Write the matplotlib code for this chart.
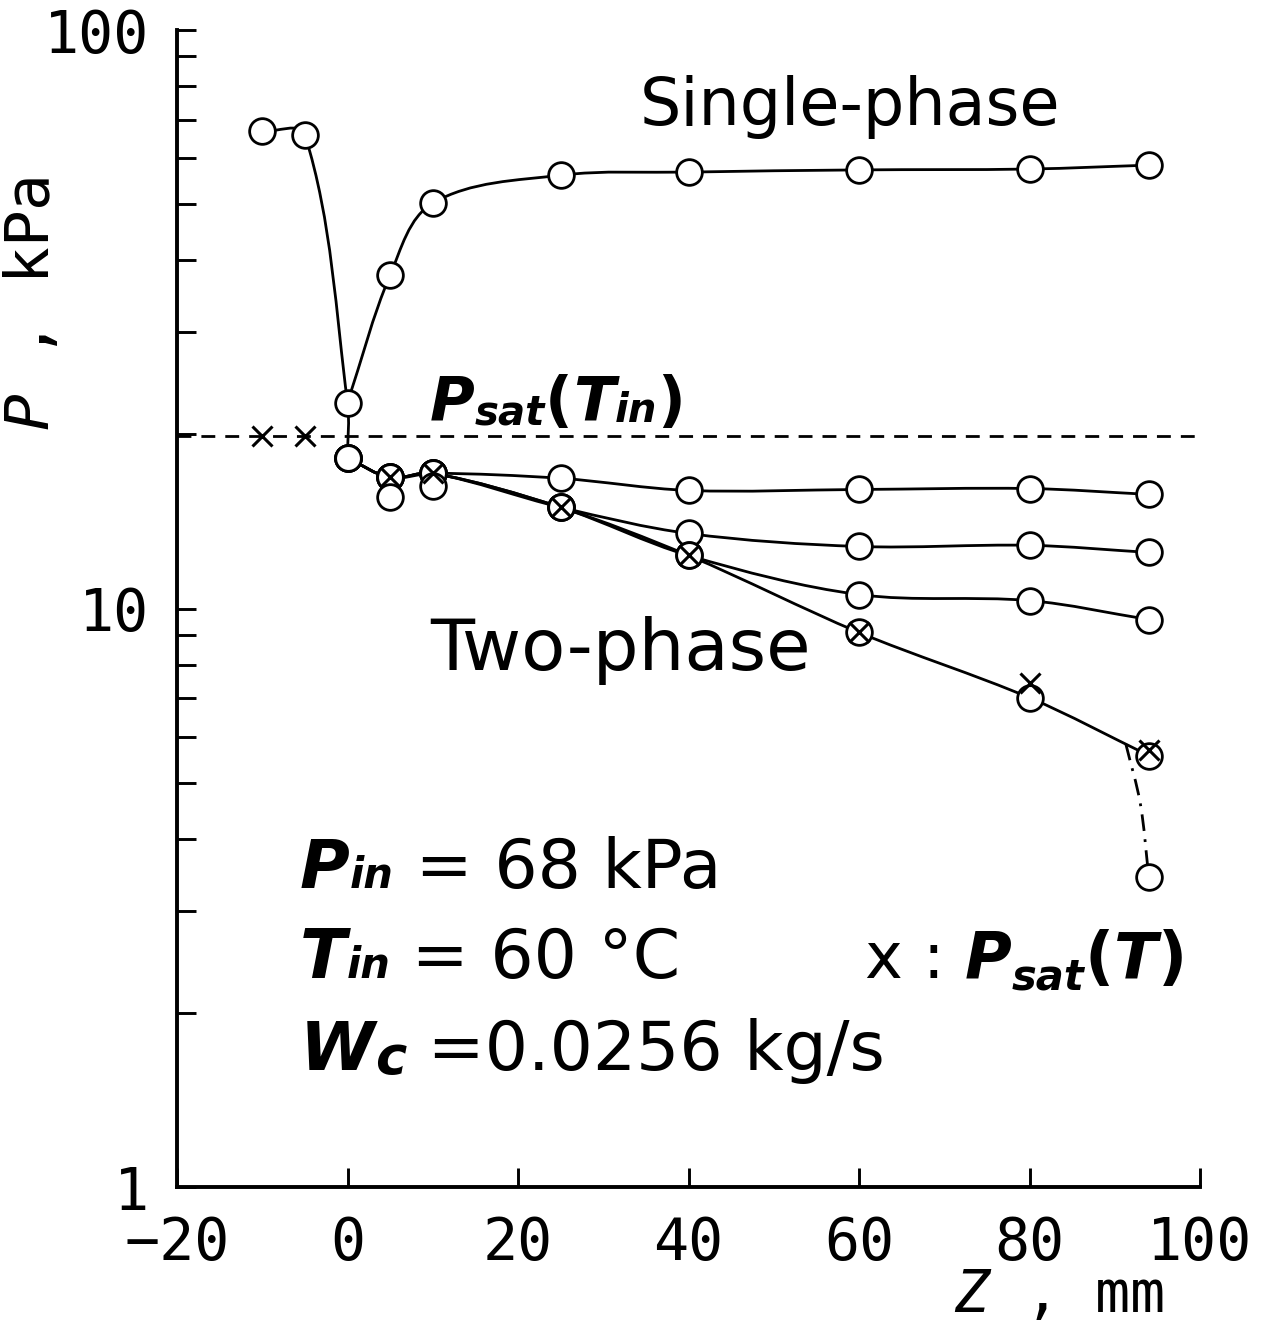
import numpy as np
import matplotlib
matplotlib.use("Agg")
import matplotlib.pyplot as plt
from matplotlib.path import Path
from matplotlib.patches import PathPatch
from matplotlib.ticker import LogLocator, NullFormatter

plt.rcParams["mathtext.fontset"] = "custom"
plt.rcParams["mathtext.it"] = "DejaVu Sans Mono:italic"
plt.rcParams["mathtext.rm"] = "DejaVu Sans Mono"

# single-phase run
z_single = [-10, -5, 0, 5, 10, 25, 40, 60, 80, 94]
p_single = [66.8, 65.9, 22.7, 37.7, 50.2, 56.1, 56.8, 57.3, 57.5, 58.4]

# two-phase runs (all start from the same inlet point)
z_two = [0, 5, 10, 25, 40, 60, 80, 94]
p_two_a = [18.2, 16.85, 17.13, 16.79, 16.0, 16.06, 16.12, 15.75]
p_two_b = [18.2, 16.85, 17.13, 14.96, 13.48, 12.80, 12.86, 12.50]
p_two_c = [18.2, 16.85, 17.13, 14.96, 12.35, 10.57, 10.32, 9.57]
p_two_d = [18.2, 16.85, 17.13, 14.96, 12.35, 9.09, 7.01, 5.57]

# extra measured points without a line
z_extra = [5, 10]
p_extra = [15.56, 16.26]

# saturation pressure at local temperature (x marks)
p_sat_in = 19.9
z_cross = [-10, -5, 5, 10, 25, 40, 60, 80, 94]
p_cross = [19.9, 19.9, 16.85, 17.13, 14.96, 12.35, 9.09, 7.42, 5.70]

# dash-dot drop at the exit
z_exit = [91.3, 93.0, 94.0]
p_exit = [5.83, 4.60, 3.43]

x_ticks = [-20, 0, 20, 40, 60, 80, 100]
x_tick_labels = ["\u221220", "0", "20", "40", "60", "80", "100"]
y_ticks = [1, 10, 100]
y_tick_labels = ["1", "10", "100"]

W, H = 1282, 1330
fig = plt.figure(figsize=(W / 100, H / 100), dpi=100)
ax = fig.add_axes([177 / W, 1 - 1187 / H, (1200 - 177) / W, (1187 - 30) / H])
ax.set_yscale("log")
ax.set_xlim(-20, 100)
ax.set_ylim(1, 100)
ax.set_autoscale_on(False)

for side in ("top", "right"):
    ax.spines[side].set_visible(False)
for side in ("left", "bottom"):
    ax.spines[side].set_linewidth(2.8)

mono = "DejaVu Sans Mono"
ax.set_xticks(x_ticks)
ax.set_xticklabels(x_tick_labels, fontfamily=mono, fontsize=42)
ax.set_yticks(y_ticks)
ax.set_yticklabels(y_tick_labels, fontfamily=mono, fontsize=42)
ax.yaxis.set_minor_locator(LogLocator(base=10, subs=range(2, 10)))
ax.yaxis.set_minor_formatter(NullFormatter())
ax.tick_params(axis="both", which="both", direction="in", length=14, width=2.1)
ax.tick_params(axis="x", pad=20)
ax.tick_params(axis="y", pad=20)

ax.set_xlabel("$Z$ , mm", fontfamily=mono, fontsize=42, ha="center", va="center")
ax.xaxis.set_label_coords(0.862, -0.094)
ax.set_ylabel("$P$ , kPa", fontfamily=mono, fontsize=44, ha="center", va="center")
ax.yaxis.set_label_coords(-0.141, 0.763)


def smooth(xs, ys, **kw):
    # draw a smooth curve through the points (tangents taken in display space)
    pts = ax.transData.transform(np.column_stack([xs, ys]))
    n = len(pts)
    tans = []
    for i in range(n):
        if i == 0:
            d = pts[1] - pts[0]
        elif i == n - 1:
            d = pts[-1] - pts[-2]
        else:
            d = pts[i + 1] - pts[i - 1]
        tans.append(d / np.hypot(*d))
    verts = [pts[0]]
    codes = [Path.MOVETO]
    for i in range(n - 1):
        seg = np.hypot(*(pts[i + 1] - pts[i]))
        verts += [pts[i] + tans[i] * seg / 3, pts[i + 1] - tans[i + 1] * seg / 3, pts[i + 1]]
        codes += [Path.CURVE4] * 3
    verts = ax.transData.inverted().transform(np.array(verts))
    ax.add_patch(PathPatch(Path(verts, codes), fill=False, **kw))


line_kw = dict(edgecolor="black", linewidth=2.0, zorder=2)
# single-phase: drop to the inlet then recovery
smooth(z_single[:3] + [z_two[0]], p_single[:3] + [p_two_a[0]], **line_kw)
smooth(z_single[2:], p_single[2:], **line_kw)
for p_run in (p_two_a, p_two_b, p_two_c, p_two_d):
    smooth(z_two, p_run, **line_kw)
smooth(z_exit, p_exit, linestyle=(0, (6, 3, 1, 3)), **line_kw)

ax.axhline(p_sat_in, color="black", linewidth=2.0, linestyle=(0, (5, 3.6)), zorder=1)

mk = dict(linestyle="none", marker="o", markersize=18.5, markerfacecolor="white",
          markeredgecolor="black", markeredgewidth=2.0, zorder=3)
ax.plot(z_single, p_single, **mk)
for p_run in (p_two_a, p_two_b, p_two_c, p_two_d):
    ax.plot(z_two, p_run, **mk)
ax.plot(z_extra, p_extra, **mk)
ax.plot(z_exit[-1:], p_exit[-1:], **mk)
ax.plot(z_cross, p_cross, linestyle="none", marker="x", markersize=14,
        markeredgewidth=2.2, color="black", zorder=4)

renderer = fig.canvas.get_renderer()


def chain(pieces, x_px, y_px):
    # write text pieces one after another on a common baseline
    x = x_px
    for text, size, weight, style, dy in pieces:
        t = fig.text(x / W, 1 - (y_px + dy) / H, text, fontsize=size, fontweight=weight,
                     fontstyle=style, ha="left", va="baseline", fontfamily="DejaVu Sans")
        x += t.get_window_extent(renderer).width


N, B = "normal", "bold"
I = "italic"
chain([("Single-phase", 47, N, N, 0)], 640, 125)
chain([("Two-phase", 52, N, N, 0)], 430, 670)
chain([("P", 44, B, I, 0), ("sat", 29, B, I, 4), ("(", 44, B, N, 0),
       ("T", 44, B, I, 0), ("in", 29, B, I, 2), (")", 44, B, N, 0)], 430, 420)
chain([("P", 49, B, I, 0), ("in", 30, B, I, 0), (" = 68 kPa", 49, N, N, 0)], 300, 888)
chain([("T", 49, B, I, 0), ("in", 30, B, I, 0), (" = 60 °C", 49, N, N, 0)], 300, 978)
chain([("W", 49, B, I, 0), ("c", 38, B, I, 4), (" =0.0256 kg/s", 49, N, N, 0)], 300, 1070)
chain([("x : ", 46, N, N, 0), ("P", 46, B, I, 0), ("sat", 30, B, I, 12),
       ("(", 46, B, N, 0), ("T", 46, B, I, 0), (")", 46, B, N, 0)], 865, 978)

fig.savefig("out.png", dpi=100)
